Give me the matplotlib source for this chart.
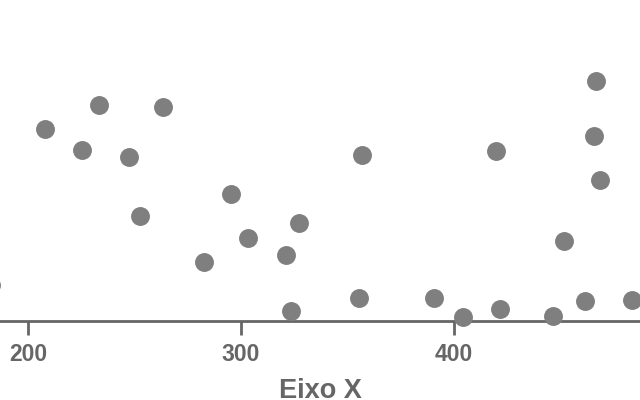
import matplotlib
matplotlib.use('Agg')
import matplotlib.pyplot as plt

# Data (y has no visible axis, arbitrary units)
x_vals = [182.4, 208.0, 225.4, 233.3, 247.4, 252.6, 263.4, 282.6, 295.3,
          303.3, 321.1, 323.5, 327.2, 355.4, 356.8, 390.6, 404.2, 419.7,
          421.6, 446.5, 451.6, 461.5, 465.7, 466.7, 468.5, 483.5]
y_vals = [15.0, 80.0, 71.3, 90.0, 68.3, 43.8, 89.2, 24.6, 52.9,
          34.6, 27.5, 4.2, 40.8, 9.6, 69.2, 9.6, 1.7, 70.8,
          5.0, 2.1, 33.3, 8.3, 77.1, 100.0, 58.8, 8.8]
x_ticks = [200, 300, 400]

plt.rcParams['font.family'] = ['Liberation Sans', 'DejaVu Sans']
grey = '#666666'

fig = plt.figure(figsize=(6.4, 4), dpi=100)
ax = fig.add_axes([0, 79 / 400, 1, 321 / 400])
ax.scatter(x_vals, y_vals, s=185, color='#7f7f7f', linewidths=0,
           clip_on=False, zorder=3)

ax.set_xlim(186.85, 487.3)
ax.set_ylim(0, 321 / 2.4)
ax.set_xticks(x_ticks)
ax.set_yticks([])
for side in ['top', 'right', 'left']:
    ax.spines[side].set_visible(False)
ax.spines['bottom'].set_color(grey)
ax.spines['bottom'].set_linewidth(2)
ax.tick_params(axis='x', length=10, width=2, color=grey, pad=6,
               labelsize=16.5, labelcolor=grey)
for lbl in ax.get_xticklabels():
    lbl.set_fontweight('bold')

# axis title right at the bottom edge
fig.text(0.5, 2.5 / 400, 'Eixo X', ha='center', va='baseline',
         fontsize=19.5, fontweight='bold', color=grey)

fig.savefig('out.png', dpi=100)
